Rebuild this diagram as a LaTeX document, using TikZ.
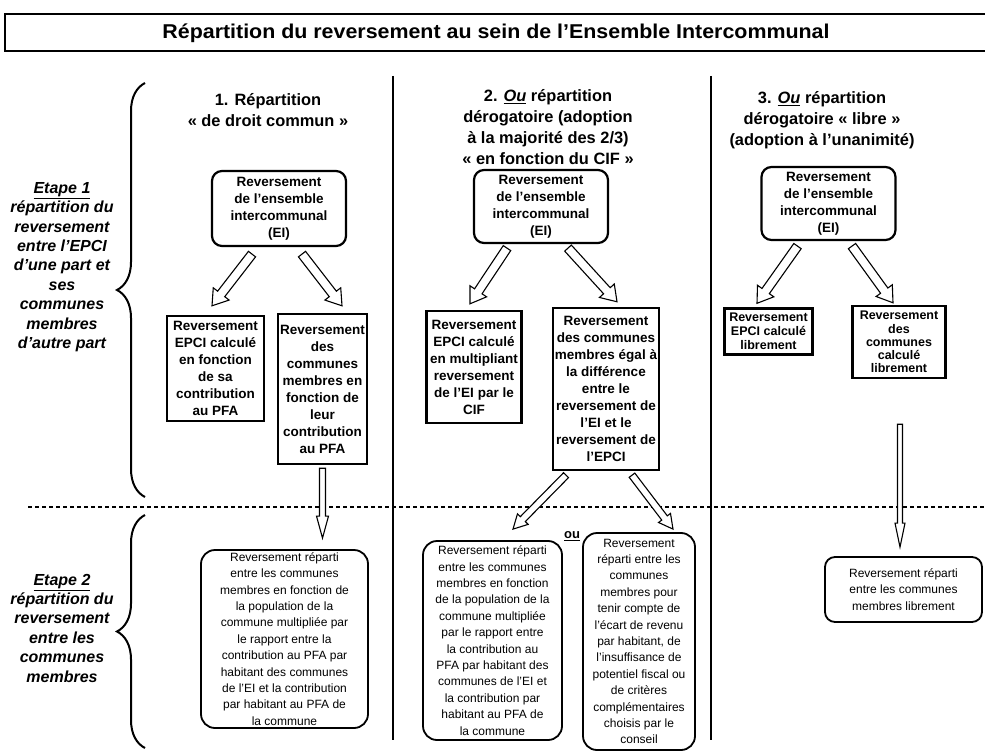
\documentclass[tikz,border=0pt]{standalone}
\usepackage{fontspec}
\setmainfont{Liberation Sans}
\newfontfamily\titlefont{Liberation Sans}[FakeStretch=1.07,Ligatures=TeX]
\usetikzlibrary{calc,decorations.pathreplacing}
\newcommand\hollowarr[5]{%
  \coordinate (hb) at ($(#2)!#5!(#1)$);
  \draw[harr] ($(#1)!#3!90:(#2)$) -- ($(hb)!#3!90:(#2)$) -- ($(hb)!#4!90:(#2)$) -- (#2)
    -- ($(hb)!#4!-90:(#2)$) -- ($(hb)!#3!-90:(#2)$) -- ($(#1)!#3!-90:(#2)$) -- cycle;
}
\tikzset{
  sqbox/.style={draw, line width=2.4pt, align=center, inner sep=0pt,
    font=\fontsize{13.5}{17}\selectfont\bfseries},
  topbox/.style={draw, rounded corners=10pt, line width=2.2pt, align=center, inner sep=0pt,
    font=\fontsize{13.5}{17}\selectfont\bfseries},
  lowbox/.style={draw, rounded corners=14pt, line width=1.8pt, align=center, inner sep=0pt,
    font=\fontsize{12}{16.4}\selectfont},
  head/.style={align=center, font=\fontsize{16.4}{21}\selectfont\bfseries},
  etape/.style={align=center, font=\fontsize{16}{19.4}\selectfont\bfseries\itshape},
  harr/.style={draw, line width=1.1pt, fill=white, line join=miter},
  bracestyle/.style={decorate, decoration={brace, amplitude=28pt}, line width=2pt},
}
\begin{document}
\begin{tikzpicture}[x=1pt,y=-1pt]
\useasboundingbox (0,0) rectangle (985,754);
% title
\draw[line width=1.6pt] (985,14) -- (5,14) -- (5,51) -- (985,51);
\node[font=\titlefont\fontsize{20}{22}\selectfont\bfseries] (title) at (496,33)
  {Répartition du reversement au sein de l'Ensemble Intercommunal};
% dividers
\draw[line width=2pt] (393,76) -- (393,740);
\draw[line width=2pt] (711,76) -- (711,740);
\draw[line width=1.2pt, dash pattern=on 4pt off 3pt] (28,507) -- (985,507);
% braces
\draw[bracestyle] (145,497) -- (145,83);
\draw[bracestyle] (145,748) -- (145,515);
\node[etape] (e1) at (62,267) {\underline{Etape 1}\\répartition du\\reversement\\entre l'EPCI\\d'une part et\\ses\\communes\\membres\\d'autre part};
\node[etape] (e2) at (62,628) {\underline{Etape 2}\\répartition du\\reversement\\entre les\\communes\\membres};
% headings
\node[head] (h1) at (268,110) {1. Répartition\\« de droit commun »};
\node[head] (h2) at (548,127) {2. \underline{\textit{Ou}} répartition\\dérogatoire (adoption\\à la majorité des 2/3)\\« en fonction du CIF »};
\node[head] (h3) at (822,120) {3. \underline{\textit{Ou}} répartition\\dérogatoire « libre »\\(adoption à l'unanimité)};
% column 1
\node[topbox, minimum width=134pt, minimum height=75pt] (t1) at (279,208.5) {Reversement\\de l'ensemble\\intercommunal\\(EI)};
\node[sqbox, minimum width=97pt, minimum height=105pt] (l1) at (215.5,368.5) {Reversement\\EPCI calculé\\en fonction\\de sa\\contribution\\au PFA};
\node[sqbox, minimum width=89pt, minimum height=150pt] (r1) at (322.5,389) {Reversement\\des\\communes\\membres en\\fonction de\\leur\\contribution\\au PFA};
\node[lowbox, minimum width=167pt, minimum height=178pt] (b1) at (284.5,639) {Reversement réparti\\entre les communes\\membres en fonction de\\la population de la\\commune multipliée par\\le rapport entre la\\contribution au PFA par\\habitant des communes\\de l'EI et la contribution\\par habitant au PFA de\\la commune};
% column 2
\node[topbox, minimum width=134pt, minimum height=73pt] (t2) at (541,206.5) {Reversement\\de l'ensemble\\intercommunal\\(EI)};
\node[sqbox, minimum width=95pt, minimum height=112pt] (l2) at (474,367) {Reversement\\EPCI calculé\\en multipliant\\reversement\\de l'EI par le\\CIF};
\node[sqbox, minimum width=106pt, minimum height=162pt] (r2) at (606,389) {Reversement\\des communes\\membres égal à\\la différence\\entre le\\reversement de\\l'EI et le\\reversement de\\l'EPCI};
\node[lowbox, minimum width=139pt, minimum height=199pt] (bl2) at (492.5,640.5) {Reversement réparti\\entre les communes\\membres en fonction\\de la population de la\\commune multipliée\\par le rapport entre\\la contribution au\\PFA par habitant des\\communes de l'EI et\\la contribution par\\habitant au PFA de\\la commune};
\node[lowbox, minimum width=112pt, minimum height=217pt] (br2) at (639,641.5) {Reversement\\réparti entre les\\communes\\membres pour\\tenir compte de\\l'écart de revenu\\par habitant, de\\l'insuffisance de\\potentiel fiscal ou\\de critères\\complémentaires\\choisis par le\\conseil};
\node[font=\fontsize{13}{14}\selectfont\bfseries] (ou) at (572,536) {\underline{ou}};
% column 3
\node[topbox, minimum width=134pt, minimum height=73pt] (t3) at (828.5,203.5) {Reversement\\de l'ensemble\\intercommunal\\(EI)};
\node[sqbox, font=\fontsize{12.5}{14}\selectfont\bfseries, minimum width=88pt, minimum height=46pt] (l3) at (768.5,331.5) {Reversement\\EPCI calculé\\librement};
\node[sqbox, font=\fontsize{12.5}{13.2}\selectfont\bfseries, minimum width=93pt, minimum height=72pt] (r3) at (899,342) {Reversement\\des\\communes\\calculé\\librement};
\node[lowbox, rounded corners=10pt, minimum width=157pt, minimum height=65pt] (b3) at (903.5,589.5) {Reversement réparti\\entre les communes\\membres librement};
% arrows column 1
\coordinate (a1s) at ($(t1.south)+(-27,7)$);
\coordinate (a1e) at ($(l1.north)+(-3.5,-9)$);
\coordinate (a2s) at ($(t1.south)+(23,7)$);
\coordinate (a2e) at ($(r1.north)+(19.5,-7)$);
\hollowarr{a1s}{a1e}{4.5pt}{10pt}{15pt}
\hollowarr{a2s}{a2e}{4.5pt}{10pt}{15pt}
\coordinate (a3s) at ($(r1.south)+(0,3)$);
\coordinate (a3e) at ($(r1.south |- b1.north)+(0,-11)$);
\hollowarr{a3s}{a3e}{3pt}{6pt}{22pt}
% arrows column 2
\coordinate (c1s) at ($(t2.south)+(-34,4)$);
\coordinate (c1e) at ($(l2.north)+(-4,-6)$);
\coordinate (c2s) at ($(t2.south)+(27,4)$);
\coordinate (c2e) at ($(r2.north)+(11,-5)$);
\hollowarr{c1s}{c1e}{4.5pt}{10pt}{15pt}
\hollowarr{c2s}{c2e}{4.5pt}{10pt}{15pt}
\coordinate (c3s) at ($(r2.south)+(-40,4)$);
\coordinate (c3e) at ($(bl2.north)+(20.5,-11)$);
\coordinate (c4s) at ($(r2.south)+(26,4)$);
\coordinate (c4e) at ($(br2.north)+(34,-3)$);
\hollowarr{c3s}{c3e}{3.5pt}{7.5pt}{14pt}
\hollowarr{c4s}{c4e}{3.5pt}{7.5pt}{14pt}
% arrows column 3
\coordinate (g1s) at ($(t3.south)+(-31,5)$);
\coordinate (g1e) at ($(l3.north)+(-11.5,-4)$);
\coordinate (g2s) at ($(t3.south)+(23.5,5)$);
\coordinate (g2e) at ($(r3.north)+(-6,-2)$);
\hollowarr{g1s}{g1e}{4.5pt}{10pt}{15pt}
\hollowarr{g2s}{g2e}{4.5pt}{10pt}{15pt}
\coordinate (g3s) at ($(r3.south)+(1,45)$);
\coordinate (g3e) at ($(r3.south |- b3.north)+(1,-9)$);
\hollowarr{g3s}{g3e}{2.5pt}{5pt}{24pt}
\end{tikzpicture}
\end{document}
